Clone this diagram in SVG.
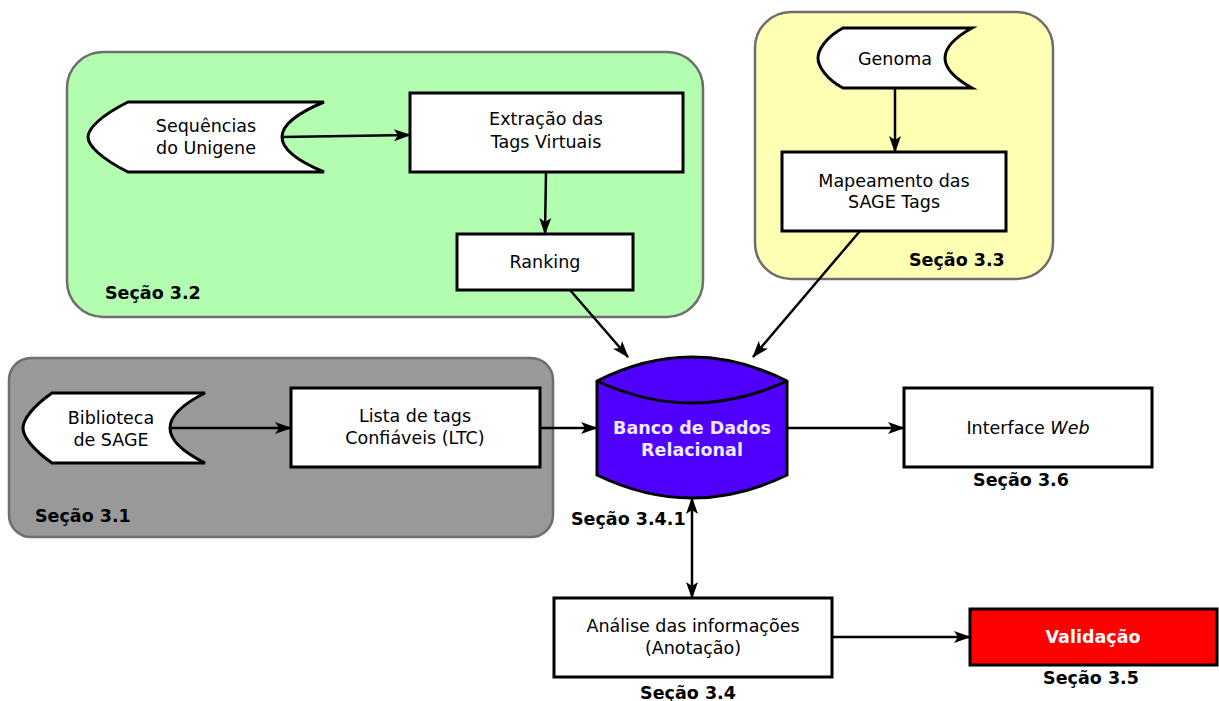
<svg xmlns="http://www.w3.org/2000/svg" width="1219" height="701" viewBox="0 0 1219 701">
<defs>
<marker id="arr" markerUnits="userSpaceOnUse" markerWidth="18" markerHeight="14" viewBox="0 0 18 14" refX="16" refY="7" orient="auto-start-reverse">
<path d="M0,1 L17,7 L0,13 L4,7 Z" fill="#000"/>
</marker>
<style>
.panel{stroke:#6e6e6e;stroke-width:2.5}
.box{fill:#fff;stroke:#000;stroke-width:3}
.t{font-family:"DejaVu Sans",sans-serif;font-size:17.5px;fill:#000;text-anchor:middle}
.b{font-family:"DejaVu Sans",sans-serif;font-size:17.5px;font-weight:bold;fill:#000}
.c{stroke:#000;stroke-width:2.5;fill:none;marker-end:url(#arr)}
</style>
</defs>
<g id="panel-3-2"><rect class="panel" x="67" y="52" width="636" height="265" rx="36" fill="#b3fdb0"/><text class="b" x="105" y="299">Seção 3.2</text></g>
<g id="panel-3-3"><rect class="panel" x="755" y="12" width="298" height="267" rx="36" fill="#ffffb3"/><text class="b" x="909" y="266">Seção 3.3</text></g>
<g id="panel-3-1"><rect class="panel" x="9" y="358" width="544" height="179" rx="22" fill="#999999"/><text class="b" x="35" y="522">Seção 3.1</text></g>
<g id="sequencias"><path class="box" d="M128,102 L324,102 Q240,137 324,172 L128,172 C100,158 88,145 88,137 C88,129 100,116 128,102 Z"/><text class="t" x="206" y="132">Sequências</text><text class="t" x="206" y="154">do Unigene</text></g>
<g id="extracao"><rect class="box" x="410" y="93" width="273" height="79"/><text class="t" x="546" y="125">Extração das</text><text class="t" x="546" y="148">Tags Virtuais</text></g>
<g id="ranking"><rect class="box" x="457" y="234" width="176" height="56"/><text class="t" x="545" y="268">Ranking</text></g>
<g id="genoma"><path class="box" d="M843,28 L972,28 Q918,58 972,88 L843,88 C826,79 818,66 818,58 C818,50 826,37 843,28 Z"/><text class="t" x="895" y="65">Genoma</text></g>
<g id="mapeamento"><rect class="box" x="782" y="152" width="224" height="79"/><text class="t" x="894" y="187">Mapeamento das</text><text class="t" x="894" y="208">SAGE Tags</text></g>
<g id="biblioteca"><path class="box" d="M52,393 L205,393 Q135,428 205,463 L52,463 C32,449 23,436 23,428 C23,420 32,407 52,393 Z"/><text class="t" x="111" y="424">Biblioteca</text><text class="t" x="111" y="446">de SAGE</text></g>
<g id="lista"><rect class="box" x="291" y="388" width="249" height="79"/><text class="t" x="415" y="422">Lista de tags</text><text class="t" x="415" y="444">Confiáveis (LTC)</text></g>
<g id="banco"><path d="M597,381 Q692,333 787,381 L787,475 Q692,521 597,475 Z" fill="#5000ff" stroke="#000" stroke-width="3"/><path d="M597,381 Q692,425 787,381" fill="none" stroke="#000" stroke-width="3"/><text class="t" x="692" y="434" style="font-weight:bold;fill:#eeeaff">Banco de Dados</text><text class="t" x="692" y="456" style="font-weight:bold;fill:#eeeaff">Relacional</text><text class="b" x="571" y="525">Seção 3.4.1</text></g>
<g id="interface"><rect class="box" x="904" y="388" width="248" height="79"/><text class="t" x="1028" y="434">Interface <tspan font-style="italic">Web</tspan></text><text class="b" x="1021" y="486" text-anchor="middle">Seção 3.6</text></g>
<g id="analise"><rect class="box" x="554" y="598" width="278" height="79"/><text class="t" x="693" y="632">Análise das informações</text><text class="t" x="693" y="654">(Anotação)</text><text class="b" x="688" y="699" text-anchor="middle">Seção 3.4</text></g>
<g id="validacao"><rect x="970" y="609" width="247" height="56" fill="#ff0000" stroke="#000" stroke-width="3"/><text class="t" x="1093" y="643" style="font-weight:bold;fill:#fff">Validação</text><text class="b" x="1091" y="684" text-anchor="middle">Seção 3.5</text></g>
<g id="connectors">
<line class="c" x1="282" y1="137" x2="410" y2="135"/>
<line class="c" x1="546" y1="172" x2="545" y2="234"/>
<line class="c" x1="570" y1="290" x2="628" y2="357"/>
<line class="c" x1="895" y1="88" x2="895" y2="152"/>
<line class="c" x1="860" y1="231" x2="753" y2="357"/>
<line class="c" x1="170" y1="428" x2="291" y2="428"/>
<line class="c" x1="540" y1="428" x2="597" y2="428"/>
<line class="c" x1="787" y1="428" x2="904" y2="428"/>
<line class="c" x1="692" y1="498" x2="692" y2="598" style="marker-start:url(#arr)"/>
<line class="c" x1="832" y1="637" x2="970" y2="637"/>
</g>
</svg>
